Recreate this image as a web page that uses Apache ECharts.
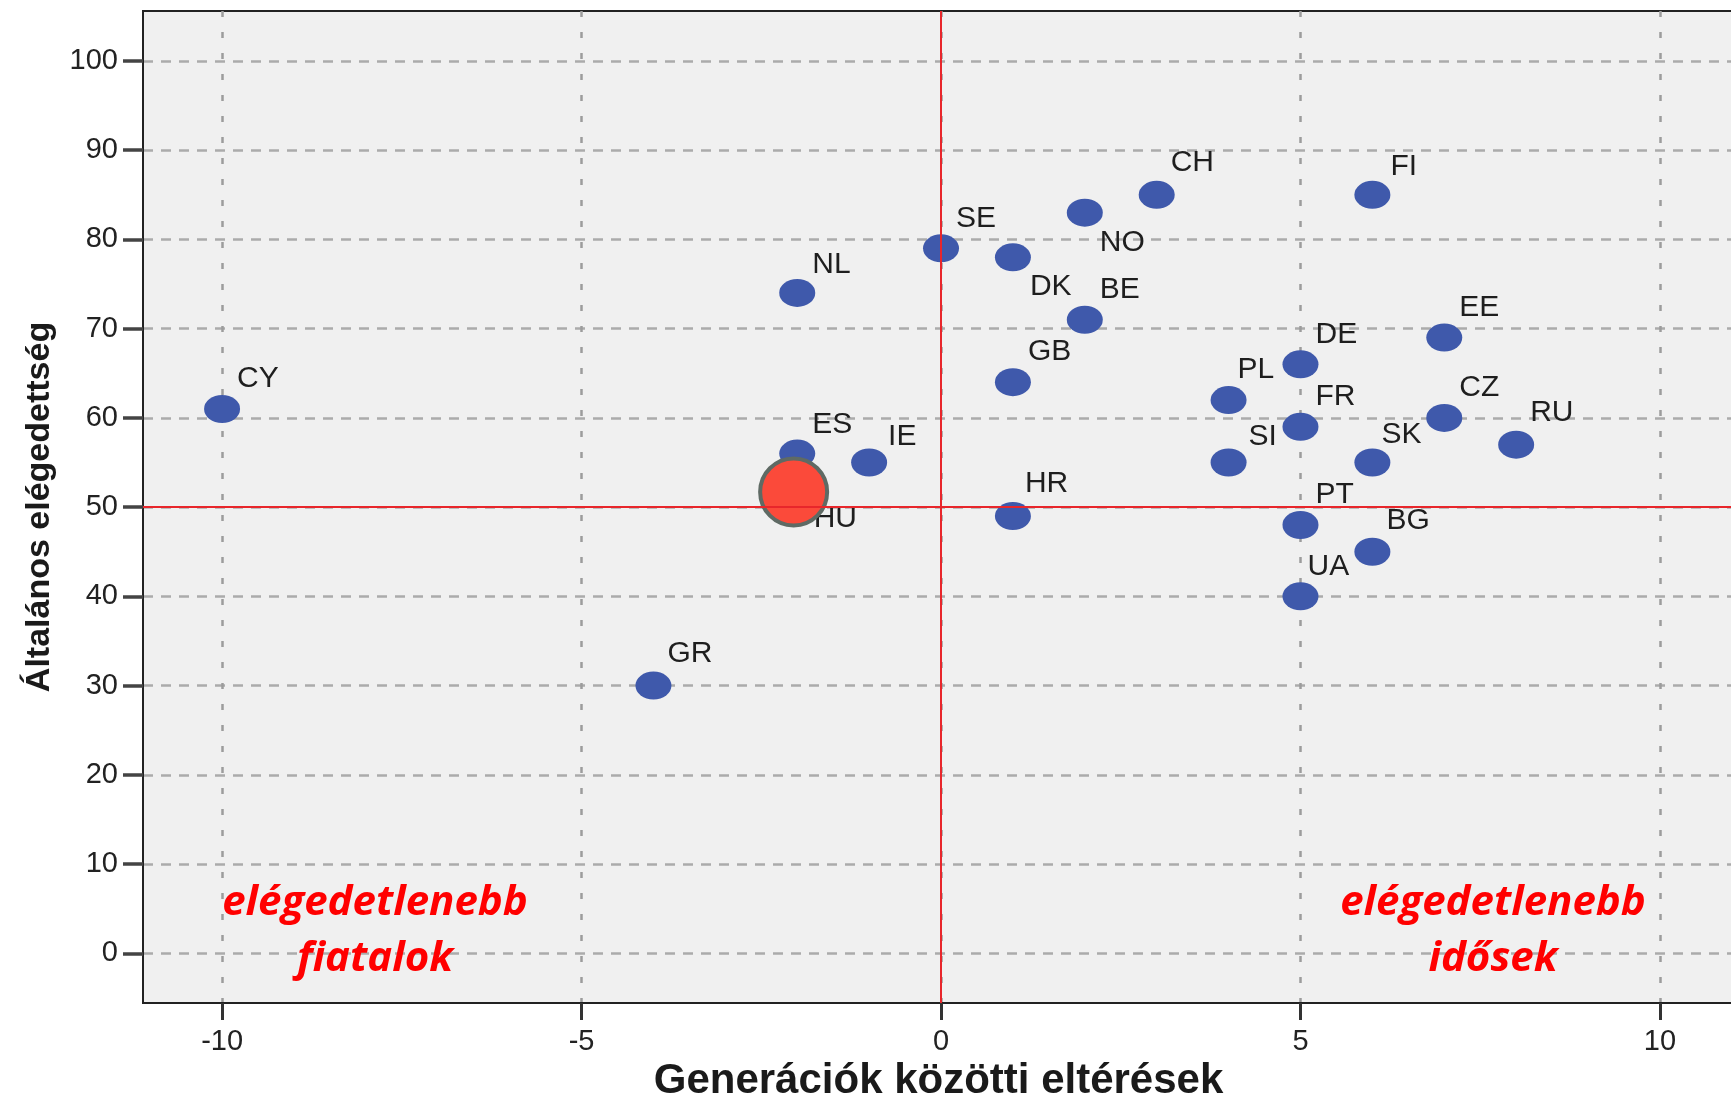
<!DOCTYPE html>
<html>
<head>
<meta charset="utf-8">
<script src="https://cdn.jsdelivr.net/npm/echarts@6/dist/echarts.min.js"></script>
<style>
html,body{margin:0;padding:0;background:#fff;}
#chart{width:1731px;height:1096px;}
</style>
</head>
<body>
<div id="chart"></div>
<script>
// ---- data ----
const countries = ['CY','GR','NL','ES','IE','SE','DK','GB','HR','NO','BE','CH','FI','PL','SI','DE','FR','PT','UA','EE','CZ','SK','BG','RU'];
const genDiff = [-10,-4,-2,-2,-1,0,1,1,1,2,2,3,6,4,4,5,5,5,5,7,7,6,6,8];
const satisfaction = [61,30,74,56,55,79,78,64,49,83,71,85,85,62,55,66,59,48,40,69,60,55,45,57];
const highlightNames = ['HU'];
const highlightX = [-2.05];
const highlightY = [51.7];
const xTicks = [-10,-5,0,5,10];
const yTicks = [0,10,20,30,40,50,60,70,80,90,100];
const refX = 0, refY = 50;
const xTitle = 'Generációk közötti eltérések';
const yTitle = 'Általános elégedettség';
const noteLeft = ['elégedetlenebb', 'fiatalok'];
const noteRight = ['elégedetlenebb', 'idősek'];

// ---- label placement (style) ----
const defOffset = [15, -30];
const labelOffsets = {
  DK: [17, 29], NO: [15, 30], PL: [9, -30], SK: [9, -28], UA: [7, -30],
  SI: [20, -26], IE: [19, -26], NL: [15, -28], ES: [15, -29], FI: [18, -28],
  HR: [12, -32], GR: [14, -32], CH: [14, -32], RU: [14, -32], BG: [14, -31]
};
const hlLabelOffset = [20, 27];

const labelFont = { fontFamily: 'Liberation Sans, Arial, sans-serif', fontSize: 30, color: '#1e1e1e', textBorderWidth: 0, opacity: 1 };

const blueData = countries.map((c, i) => ({
  name: c,
  value: [genDiff[i], satisfaction[i]],
  label: { offset: labelOffsets[c] || defOffset }
}));
const hlData = highlightNames.map((c, i) => ({ name: c, value: [highlightX[i], highlightY[i]] }));

const chart = echarts.init(document.getElementById('chart'), null, { renderer: 'canvas' });

const noteFont = 'italic bold 42px "Open Sans", sans-serif';
function noteGraphic(lines, cx) {
  return lines.map((t, k) => ({
    type: 'text', z: 50,
    x: cx, y: 903 + k * 56,
    style: { text: t, font: noteFont, fill: '#ff0000', textAlign: 'center', textVerticalAlign: 'middle' }
  }));
}

chart.setOption({
  backgroundColor: '#ffffff',
  animation: false,
  grid: {
    left: 143, top: 11, right: -3, bottom: 93,
    outerBoundsMode: 'none', containLabel: false,
    show: true, backgroundColor: '#f0f0f0', borderColor: '#222', borderWidth: 2
  },
  xAxis: {
    type: 'value', min: -11.1, max: 11.03, splitNumber: 4,
    name: xTitle, nameLocation: 'middle', nameGap: 57, nameMoveOverlap: false,
    nameTextStyle: { fontFamily: 'Liberation Sans, Arial, sans-serif', fontWeight: 'bold', fontSize: 42, color: '#1a1a1a' },
    axisLine: { show: true, onZero: false, lineStyle: { color: '#222', width: 2 } },
    axisTick: { show: true, length: 17, customValues: xTicks, lineStyle: { color: '#333', width: 3 } },
    axisLabel: { customValues: xTicks, margin: 24, fontFamily: 'Liberation Sans, Arial, sans-serif', fontSize: 29, color: '#222' },
    splitLine: { show: true, lineStyle: { color: '#9c9c9c', width: 2.5, type: [6, 15] } }
  },
  yAxis: {
    type: 'value', min: -5.57, max: 105.6, splitNumber: 11,
    name: yTitle, nameLocation: 'middle', nameGap: 86, nameRotate: 90, nameMoveOverlap: false,
    nameTextStyle: { fontFamily: 'Liberation Sans, Arial, sans-serif', fontWeight: 'bold', fontSize: 34, color: '#1a1a1a' },
    axisLine: { show: true, onZero: false, lineStyle: { color: '#222', width: 2 } },
    axisTick: { show: true, length: 20, customValues: yTicks, lineStyle: { color: '#444', width: 3.5 } },
    axisLabel: { customValues: yTicks, margin: 25, fontFamily: 'Liberation Sans, Arial, sans-serif', fontSize: 29, color: '#222' },
    splitLine: { show: true, lineStyle: { color: '#ababab', width: 2.5, type: [10, 8] } }
  },
  graphic: noteGraphic(noteLeft, 375).concat(noteGraphic(noteRight, 1493)),
  series: [
    {
      type: 'scatter', z: 1, data: [], silent: true,
      markLine: {
        silent: true, symbol: 'none', animation: false,
        label: { show: false },
        lineStyle: { color: '#e8262b', width: 2, type: 'solid' },
        data: [{ xAxis: refX }, { yAxis: refY }]
      }
    },
    {
      name: 'countries', type: 'scatter', z: 2,
      symbol: 'circle', symbolSize: [36, 28],
      itemStyle: { color: '#3f59ab', opacity: 1 },
      label: Object.assign({ show: true, position: 'inside', align: 'left', verticalAlign: 'middle',
        formatter: p => p.name }, labelFont),
      data: blueData
    },
    {
      name: 'hu-label', type: 'scatter', z: 2, symbolSize: 2,
      itemStyle: { color: '#f0f0f0' },
      label: Object.assign({ show: true, position: 'inside', align: 'left', verticalAlign: 'middle',
        offset: hlLabelOffset, formatter: p => p.name }, labelFont),
      data: hlData
    },
    {
      name: 'hu', type: 'scatter', z: 3,
      symbol: 'circle', symbolSize: 67,
      itemStyle: { color: '#fb4a3a', borderColor: '#5f6a64', borderWidth: 4, opacity: 1 },
      label: { show: false },
      data: hlData
    }
  ]
});
</script>
</body>
</html>
